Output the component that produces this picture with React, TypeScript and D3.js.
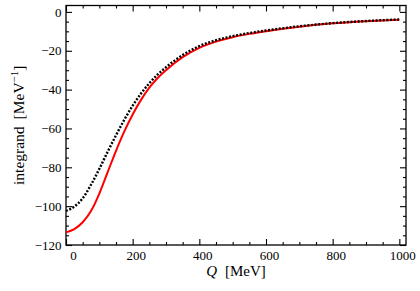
import { useEffect, useRef } from "react";
import * as d3 from "d3";

// Q grid [MeV]
const qValues = [
  0, 25, 50, 75, 100, 125, 150, 175, 200, 225, 250, 275, 300, 350, 400, 450,
  500, 550, 600, 700, 800, 900, 1000,
];
// solid red curve
const redValues = [
  -113.5, -111.8, -108.3, -102.5, -93.5, -82.5, -71.5, -61.5, -52.8, -45.3,
  -39.0, -34.0, -30.0, -23.3, -18.5, -15.3, -13.0, -11.3, -9.9, -7.6, -5.9,
  -4.8, -4.0,
];
// dotted black curve
const blackValues = [
  -102.5, -100.2, -96.0, -89.0, -80.8, -72.0, -63.5, -55.5, -48.3, -42.0,
  -36.7, -32.2, -28.5, -22.2, -17.6, -14.6, -12.5, -10.9, -9.6, -7.4, -5.8,
  -4.7, -3.9,
];
const xTicks = [0, 200, 400, 600, 800, 1000];
const yTicks = [0, -20, -40, -60, -80, -100, -120];

export default function App() {
  const ref = useRef<SVGSVGElement | null>(null);

  useEffect(() => {
    if (!ref.current) return;
    document.body.style.margin = "0";
    const svg = d3.select(ref.current);
    svg.selectAll("*").remove();

    const left = 66,
      right = 406,
      top = 5.5,
      bottom = 245;
    const font = "Liberation Serif, DejaVu Serif, serif";
    const fmt = (d: d3.NumberValue) => String(d).replace("-", "\u2212");

    const x = d3.scaleLinear().domain([0, 1020]).range([left, right]);
    const y = d3.scaleLinear().domain([-120, 3.3]).range([bottom, top]);

    const xMinor = d3.range(0, 1001, 50).filter((v) => v % 200 !== 0);
    const yMinor = d3.range(-120, 1, 5).filter((v) => v % 20 !== 0);

    const styleAxis = (g: d3.Selection<SVGGElement, unknown, null, undefined>) => {
      g.select(".domain").remove();
      g.selectAll("line").attr("stroke", "#000").attr("stroke-width", 1.1);
      g.attr("font-family", font).attr("font-size", 13);
      g.selectAll("text")
        .attr("fill", "#000")
        .style("font-family", font)
        .style("font-size", "13px");
    };

    // bottom
    svg
      .append("g")
      .attr("transform", `translate(0,${bottom})`)
      .call(d3.axisBottom(x).tickValues(xTicks).tickSize(-6).tickPadding(6).tickFormat(fmt))
      .call(styleAxis)
      .selectAll("text")
      .attr("dx", (d: any) => (d === 0 ? 7 : 3));
    svg
      .append("g")
      .attr("transform", `translate(0,${bottom})`)
      .call(d3.axisBottom(x).tickValues(xMinor).tickSize(-3).tickFormat(() => ""))
      .call(styleAxis);
    // top
    svg
      .append("g")
      .attr("transform", `translate(0,${top})`)
      .call(d3.axisTop(x).tickValues(xTicks).tickSize(-6).tickFormat(() => ""))
      .call(styleAxis);
    svg
      .append("g")
      .attr("transform", `translate(0,${top})`)
      .call(d3.axisTop(x).tickValues(xMinor).tickSize(-3).tickFormat(() => ""))
      .call(styleAxis);
    // left
    svg
      .append("g")
      .attr("transform", `translate(${left},0)`)
      .call(d3.axisLeft(y).tickValues(yTicks).tickSize(-6).tickPadding(4.5).tickFormat(fmt))
      .call(styleAxis);
    svg
      .append("g")
      .attr("transform", `translate(${left},0)`)
      .call(d3.axisLeft(y).tickValues(yMinor).tickSize(-3).tickFormat(() => ""))
      .call(styleAxis);
    // right
    svg
      .append("g")
      .attr("transform", `translate(${right},0)`)
      .call(d3.axisRight(y).tickValues(yTicks).tickSize(-6).tickFormat(() => ""))
      .call(styleAxis);
    svg
      .append("g")
      .attr("transform", `translate(${right},0)`)
      .call(d3.axisRight(y).tickValues(yMinor).tickSize(-3).tickFormat(() => ""))
      .call(styleAxis);

    // frame
    svg
      .append("rect")
      .attr("x", left)
      .attr("y", top)
      .attr("width", right - left)
      .attr("height", bottom - top)
      .attr("fill", "none")
      .attr("stroke", "#000")
      .attr("stroke-width", 1.3);

    const line = d3
      .line<number>()
      .x((_, i) => x(qValues[i]))
      .y((d) => y(d))
      .curve(d3.curveMonotoneX);

    svg
      .append("path")
      .attr("d", line(redValues))
      .attr("fill", "none")
      .attr("stroke", "#ff0000")
      .attr("stroke-width", 2);

    svg
      .append("path")
      .attr("d", line(blackValues))
      .attr("fill", "none")
      .attr("stroke", "#000")
      .attr("stroke-width", 2.4)
      .attr("stroke-dasharray", "2,1.6");

    // x title
    const xt = svg
      .append("text")
      .attr("x", (left + right) / 2)
      .attr("y", 276)
      .attr("text-anchor", "middle")
      .attr("font-family", font)
      .attr("font-size", 15);
    xt.append("tspan").attr("font-style", "italic").text("Q");
    xt.append("tspan").attr("dx", 8).text("[MeV]");

    // y title
    const yt = svg
      .append("text")
      .attr("transform", `translate(24,${(top + bottom) / 2}) rotate(-90)`)
      .attr("text-anchor", "middle")
      .attr("font-family", font)
      .attr("font-size", 15.5);
    yt.append("tspan").text("integrand");
    yt.append("tspan").attr("dx", 7).text("[MeV");
    yt.append("tspan").attr("dy", -6).attr("font-size", 11).text("\u22121");
    yt.append("tspan").attr("dy", 6).text("]");
  }, []);

  return <svg ref={ref} width={420} height={291} style={{ display: "block" }} />;
}
